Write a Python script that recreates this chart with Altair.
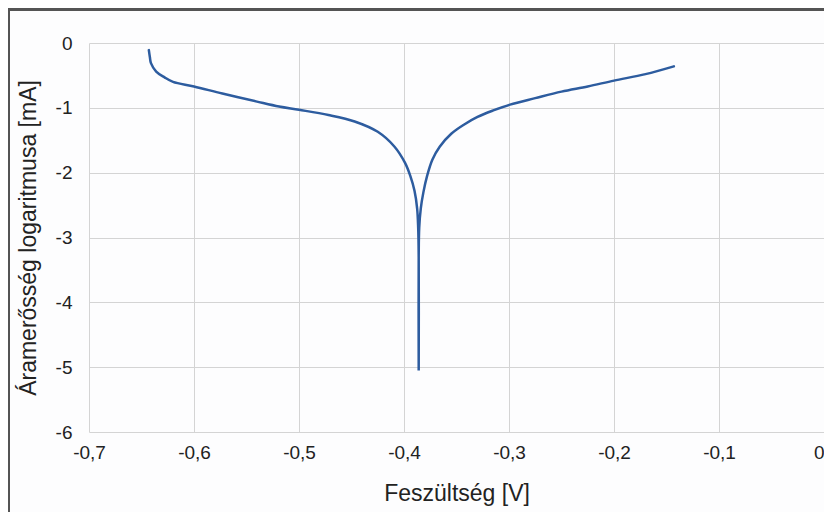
import altair as alt
import pandas as pd

# Polarization curve, in scan order
voltage = [-0.643, -0.642, -0.641, -0.636, -0.628, -0.620, -0.600, -0.573, -0.541,
           -0.519, -0.500, -0.472, -0.447, -0.425, -0.409, -0.399, -0.394, -0.390,
           -0.3875, -0.3865, -0.386, -0.386,
           -0.386, -0.3855, -0.384, -0.3815, -0.378, -0.373, -0.366, -0.355, -0.343,
           -0.330, -0.315, -0.299, -0.275, -0.250, -0.225, -0.200, -0.170, -0.143]
log_current = [-0.11, -0.22, -0.31, -0.44, -0.53, -0.60, -0.67, -0.78, -0.90,
               -0.98, -1.03, -1.11, -1.21, -1.37, -1.60, -1.85, -2.05, -2.28,
               -2.55, -2.85, -3.30, -5.05,
               -3.30, -2.85, -2.55, -2.30, -2.05, -1.80, -1.60, -1.40, -1.26,
               -1.14, -1.04, -0.95, -0.85, -0.75, -0.67, -0.58, -0.48, -0.36]

x_ticks = [-0.7, -0.6, -0.5, -0.4, -0.3, -0.2, -0.1, 0.0]
y_ticks = [0, -1, -2, -3, -4, -5, -6]

df = pd.DataFrame({"v": voltage, "i": log_current, "n": list(range(len(voltage)))})

FONT = "Liberation Sans"
W, H = 735, 389

line = alt.Chart(df).mark_line(color="#2d5c9f", strokeWidth=2.5, strokeCap="round",
                               interpolate="catmull-rom").encode(
    x=alt.X("v:Q",
            scale=alt.Scale(domain=[-0.7, 0.0], nice=False, zero=False),
            axis=alt.Axis(values=x_ticks, title="Feszültség [V]",
                          labelExpr="replace(toString(round(datum.value*10)/10), '.', ',')",
                          labelFlush=False,
                          labelAlign=alt.ExprRef(expr="datum.value == 0 ? 'right' : 'center'"),
                          labelPadding=11, titlePadding=20)),
    y=alt.Y("i:Q",
            scale=alt.Scale(domain=[-6, 0], nice=False, zero=False),
            axis=alt.Axis(values=y_ticks, title="Áramerősség logaritmusa [mA]",
                          labelExpr="toString(datum.value)",
                          labelPadding=17, titlePadding=15)),
    order="n:Q",
)

border_left = alt.Chart(df).mark_rule(color="#555555", strokeWidth=2).encode(
    x=alt.value(-80.5), y=alt.value(-34), y2=alt.value(H + 120))
border_top = alt.Chart(df).mark_rule(color="#555555", strokeWidth=2).encode(
    x=alt.value(-81.5), x2=alt.value(W + 20), y=alt.value(-33.5))

chart = alt.layer(line, border_left, border_top).properties(
    width=W, height=H,
    padding={"left": 81, "top": 35, "right": 0, "bottom": 80},
    autosize=alt.AutoSizeParams(type="none"),
    background="#fdfdfe",
).configure_view(stroke=None).configure_axis(
    grid=True, gridColor="#d4d4d4", gridWidth=1,
    domain=False, ticks=False,
    labelFont=FONT, labelFontSize=19, labelColor="#222222",
    titleFont=FONT, titleFontSize=23, titleFontWeight="normal", titleColor="#222222",
)

chart.save("out.html", embed_options={"renderer": "svg", "actions": False})
